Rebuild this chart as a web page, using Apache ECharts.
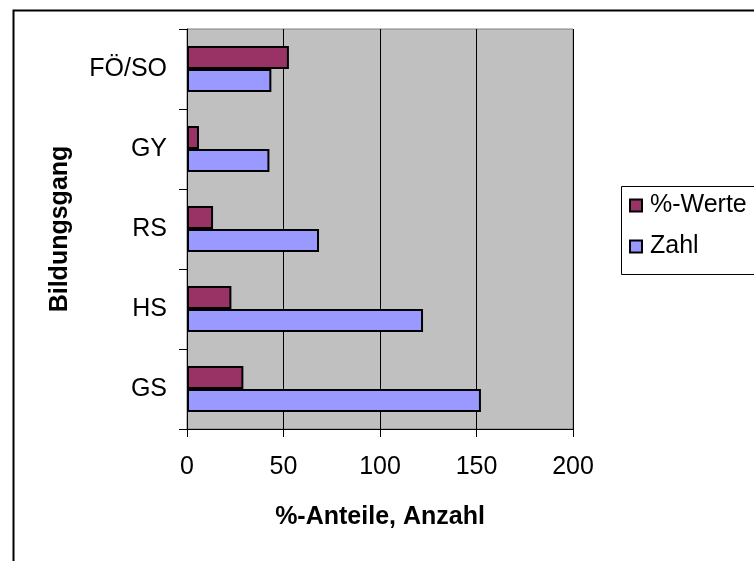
<!DOCTYPE html>
<html>
<head>
<meta charset="utf-8">
<script src="https://cdn.jsdelivr.net/npm/echarts@6/dist/echarts.min.js"></script>
<style>
    html, body { margin: 0; padding: 0; background: #fff; }
    #chart { width: 754px; height: 561px; }
</style>
</head>
<body>
<div id="chart"></div>
<script>
// Kategorien von unten nach oben
var categories = ['GS', 'HS', 'RS', 'GY', 'FÖ/SO'];
var prozentWerte = [29.2, 23.0, 13.5, 6.2, 52.8];
var zahlWerte = [152.3, 122.3, 68.4, 42.7, 43.7];
var xTicks = [0, 50, 100, 150, 200];

var font = '"Liberation Sans", Arial, sans-serif';

var myChart = echarts.init(document.getElementById('chart'));

myChart.setOption({
    animation: false,
    textStyle: { fontFamily: font, color: '#000' },
    grid: {
        left: 187,
        right: 181,
        top: 29,
        bottom: 132,
        show: true,
        backgroundColor: '#c0c0c0',
        borderColor: '#808080',
        borderWidth: 1
    },
    legend: {
        orient: 'vertical',
        left: 629,
        top: 193,
        padding: 0,
        itemWidth: 12,
        itemHeight: 12,
        itemGap: 16,
        icon: 'rect',
        textStyle: { fontFamily: font, fontSize: 25, color: '#000', padding: [0, 0, 0, 3] },
        data: ['%-Werte', 'Zahl']
    },
    graphic: [
        {
            type: 'rect',
            left: 11,
            top: 8,
            shape: { width: 760, height: 570 },
            style: { fill: 'none', stroke: '#000', lineWidth: 2 }
        },
        {
            type: 'rect',
            left: 619,
            top: 184,
            shape: { width: 150, height: 88 },
            style: { fill: 'none', stroke: '#000', lineWidth: 1 }
        }
    ],
    xAxis: {
        type: 'value',
        min: xTicks[0],
        max: xTicks[xTicks.length - 1],
        interval: 50,
        name: '%-Anteile, Anzahl',
        nameLocation: 'middle',
        nameGap: 76,
        nameTextStyle: { fontFamily: font, fontSize: 25, fontWeight: 'bold', color: '#000' },
        axisLine: { show: true, lineStyle: { color: '#000', width: 1 } },
        axisTick: { show: true, length: 8, lineStyle: { color: '#000' } },
        axisLabel: { fontFamily: font, fontSize: 25, color: '#000', margin: 26 },
        splitLine: { show: true, lineStyle: { color: '#000', width: 1 } }
    },
    yAxis: {
        type: 'category',
        data: categories,
        name: 'Bildungsgang',
        nameLocation: 'middle',
        nameRotate: 90,
        nameGap: 114,
        nameTextStyle: { fontFamily: font, fontSize: 25, fontWeight: 'bold', color: '#000' },
        axisLine: { show: true, lineStyle: { color: '#000', width: 1 } },
        axisTick: { show: true, length: 8, lineStyle: { color: '#000' } },
        axisLabel: { fontFamily: font, fontSize: 25, color: '#000', margin: 20 },
        splitLine: { show: false }
    },
    series: [
        {
            name: '%-Werte',
            type: 'bar',
            data: prozentWerte,
            barWidth: 23,
            barGap: '0%',
            itemStyle: { color: '#993366', borderColor: '#000', borderWidth: 2 }
        },
        {
            name: 'Zahl',
            type: 'bar',
            data: zahlWerte,
            barWidth: 23,
            barGap: '0%',
            itemStyle: { color: '#9999ff', borderColor: '#000', borderWidth: 2 }
        }
    ]
});
</script>
</body>
</html>
